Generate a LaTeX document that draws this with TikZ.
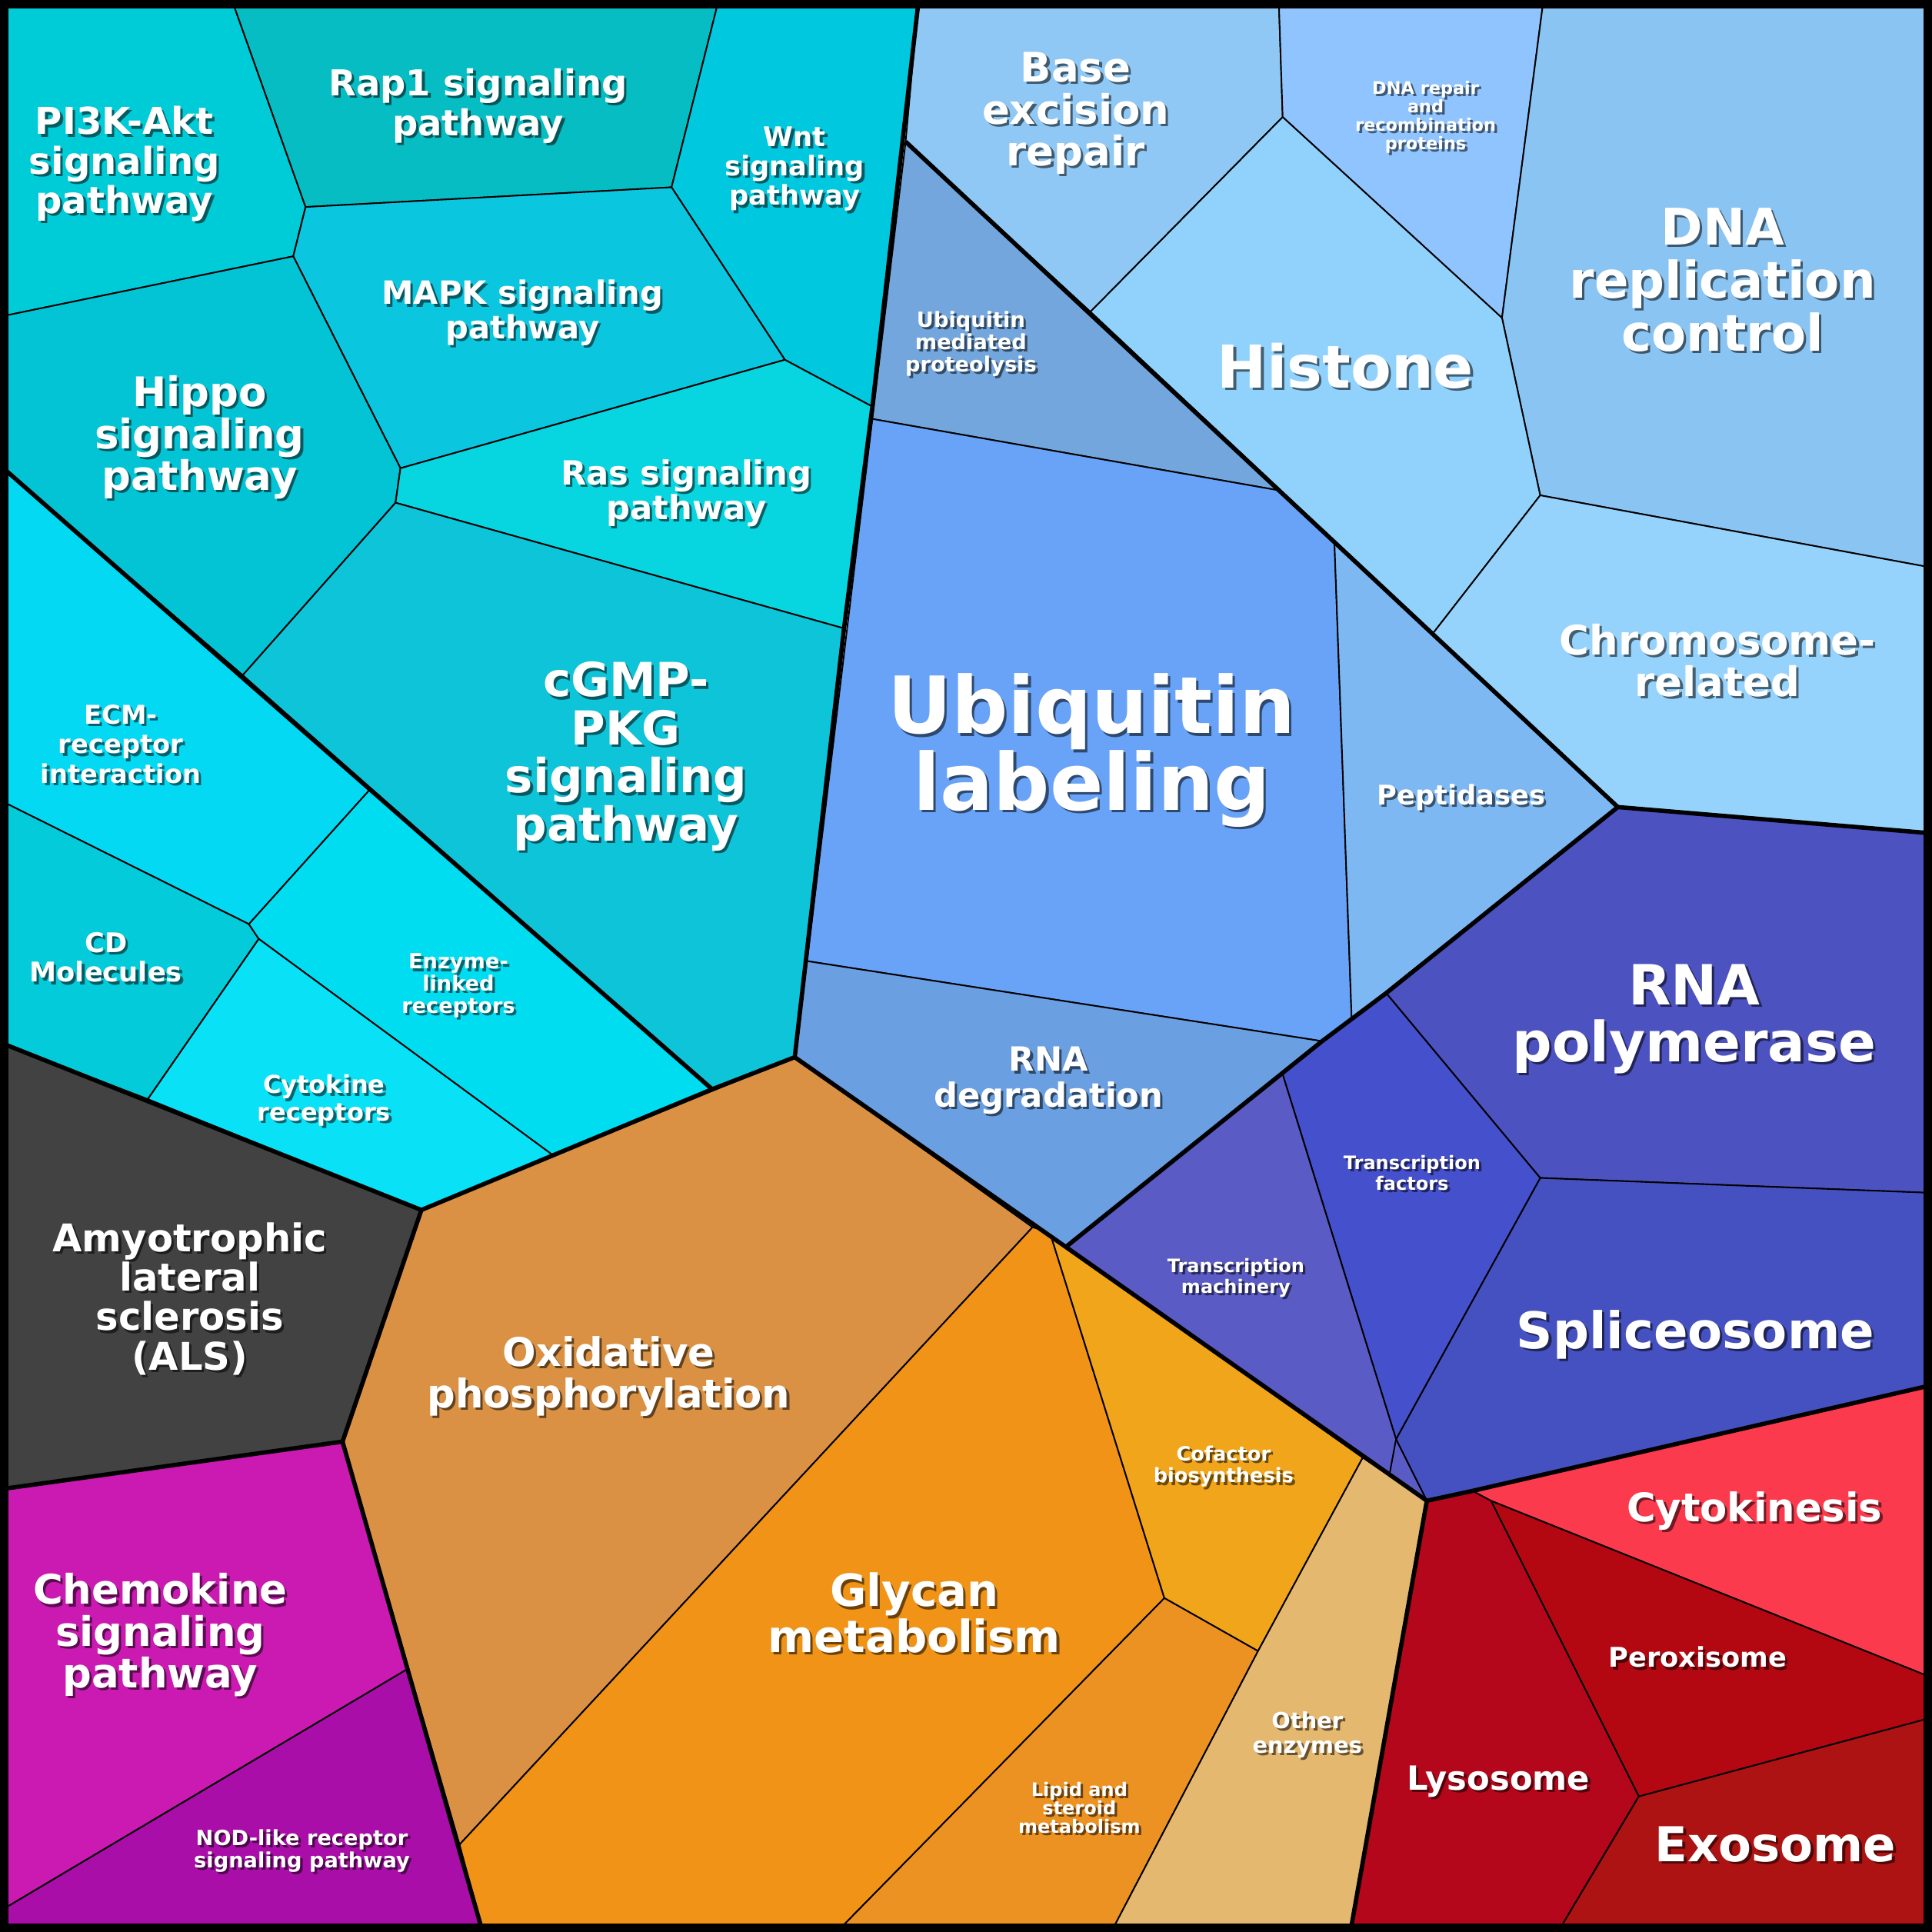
\documentclass[tikz,border=0pt]{standalone}
\usepackage{fontspec}
\setmainfont{DejaVu Sans}
\begin{document}
\newcommand{\lb}[5]{%
 \node[font=\bfseries\fontsize{#3}{#4}\selectfont,align=center,text=black,opacity=.55] (#1s) at ([shift={(2,2)}]#2) {#5};
 \node[font=\bfseries\fontsize{#3}{#4}\selectfont,align=center,text=white] (#1) at (#2) {#5};}
\begin{tikzpicture}[x=1pt,y=-1pt,thin/.style={draw=black,line width=1.2pt},thk/.style={draw=black,line width=3.5pt,line join=round}]
\useasboundingbox (0,0) rectangle (1568,1568);
% cyan upper
\path[thin,fill={rgb,255:red,0;green,204;blue,216}] (5,5)--(190,5)--(248,168)--(238,208)--(5,256)--cycle;
\path[thin,fill={rgb,255:red,5;green,189;blue,194}] (190,5)--(582,5)--(545,152)--(248,168)--cycle;
\path[thin,fill={rgb,255:red,0;green,200;blue,222}] (582,5)--(745,5)--(708,330)--(637,292)--(545,152)--cycle;
\path[thin,fill={rgb,255:red,11;green,198;blue,223}] (248,168)--(545,152)--(637,292)--(325,380)--(238,208)--cycle;
\path[thin,fill={rgb,255:red,3;green,196;blue,212}] (5,256)--(238,208)--(325,380)--(321,408)--(197,548)--(5,382)--cycle;
\path[thin,fill={rgb,255:red,7;green,213;blue,224}] (325,380)--(637,292)--(708,330)--(685,510)--(321,408)--cycle;
\path[thin,fill={rgb,255:red,14;green,196;blue,216}] (321,408)--(685,510)--(645,858)--(578,884)--(197,548)--cycle;
% cyan lower
\path[thin,fill={rgb,255:red,3;green,217;blue,243}] (5,382)--(197,548)--(300,641)--(202,750)--(5,652)--cycle;
\path[thin,fill={rgb,255:red,3;green,203;blue,218}] (5,652)--(202,750)--(210,762)--(120,892)--(5,848)--cycle;
\path[thin,fill={rgb,255:red,0;green,220;blue,240}] (300,641)--(578,884)--(448,937)--(210,762)--(202,750)--cycle;
\path[thin,fill={rgb,255:red,9;green,225;blue,247}] (210,762)--(448,937)--(342,982)--(120,892)--cycle;
% ALS, chemokine
\path[thin,fill={rgb,255:red,66;green,66;blue,66}] (5,848)--(342,982)--(278,1170)--(5,1208)--cycle;
\path[thin,fill={rgb,255:red,202;green,26;blue,178}] (5,1208)--(278,1170)--(330,1355)--(5,1548)--cycle;
\path[thin,fill={rgb,255:red,169;green,14;blue,168}] (5,1548)--(330,1355)--(390,1562)--(5,1562)--cycle;
% orange
\path[thin,fill={rgb,255:red,218;green,145;blue,67}] (342,982)--(645,858)--(838,996)--(373,1497)--(278,1170)--cycle;
\path[thin,fill={rgb,255:red,240;green,147;blue,22}] (373,1497)--(838,996)--(852,1000)--(945,1297)--(685,1562)--(390,1562)--cycle;
\path[thin,fill={rgb,255:red,240;green,165;blue,26}] (852,1000)--(865,1012)--(1106,1183)--(1021,1340)--(945,1297)--cycle;
\path[thin,fill={rgb,255:red,236;green,146;blue,35}] (945,1297)--(1021,1340)--(905,1562)--(685,1562)--cycle;
\path[thin,fill={rgb,255:red,229;green,184;blue,112}] (1106,1183)--(1158,1218)--(1097,1562)--(905,1562)--(1021,1340)--cycle;
% red
\path[thin,fill={rgb,255:red,252;green,58;blue,78}] (1195,1210)--(1564,1125)--(1564,1360)--(1210,1218)--cycle;
\path[thin,fill={rgb,255:red,179;green,8;blue,18}] (1210,1218)--(1564,1360)--(1564,1395)--(1330,1458)--cycle;
\path[thin,fill={rgb,255:red,181;green,7;blue,27}] (1158,1218)--(1195,1210)--(1210,1218)--(1330,1458)--(1268,1562)--(1097,1562)--cycle;
\path[thin,fill={rgb,255:red,174;green,19;blue,19}] (1330,1458)--(1564,1395)--(1564,1562)--(1268,1562)--cycle;
% purple
\path[thin,fill={rgb,255:red,77;green,82;blue,193}] (1125,806)--(1313,655)--(1564,676)--(1564,968)--(1250,956)--cycle;
\path[thin,fill={rgb,255:red,69;green,81;blue,192}] (1250,956)--(1564,968)--(1564,1125)--(1158,1218)--(1133,1168)--cycle;
\path[thin,fill={rgb,255:red,69;green,80;blue,204}] (1041,872)--(1073,845)--(1097,827)--(1125,806)--(1250,956)--(1133,1168)--cycle;
\path[thin,fill={rgb,255:red,90;green,91;blue,196}] (865,1012)--(1041,872)--(1133,1168)--(1158,1218)--cycle;
\draw[thin] (1133,1168)--(1128,1195);
% ubiquitin group
\path[thin,fill={rgb,255:red,115;green,166;blue,220}] (735,115)--(1038,398)--(708,340)--cycle;
\path[thin,fill={rgb,255:red,104;green,163;blue,248}] (708,340)--(1038,398)--(1083,440)--(1097,827)--(1073,845)--(655,780)--cycle;
\path[thin,fill={rgb,255:red,125;green,184;blue,243}] (1083,440)--(1313,655)--(1097,827)--cycle;
\path[thin,fill={rgb,255:red,106;green,159;blue,226}] (655,780)--(1073,845)--(865,1012)--(645,858)--cycle;
% DNA group
\path[thin,fill={rgb,255:red,143;green,200;blue,244}] (745,5)--(1038,5)--(1041,95)--(885,253)--(735,115)--cycle;
\path[thin,fill={rgb,255:red,143;green,196;blue,255}] (1038,5)--(1252,5)--(1219,258)--(1041,95)--cycle;
\path[thin,fill={rgb,255:red,137;green,196;blue,242}] (1252,5)--(1564,5)--(1564,460)--(1250,402)--(1219,258)--cycle;
\path[thin,fill={rgb,255:red,145;green,210;blue,253}] (885,253)--(1041,95)--(1219,258)--(1250,402)--(1163,514)--cycle;
\path[thin,fill={rgb,255:red,150;green,211;blue,252}] (1163,514)--(1250,402)--(1564,460)--(1564,676)--(1313,655)--cycle;
% thick group borders
\draw[thk] (745,5)--(708,330)--(685,510)--(645,858)--(578,884)--(342,982)--(5,848);
\draw[thk] (5,382)--(578,884);
\draw[thk] (342,982)--(278,1170)--(5,1208);
\draw[thk] (278,1170)--(390,1562);
\draw[thk] (645,858)--(865,1012)--(1158,1218)--(1097,1562);
\draw[thk] (1158,1218)--(1195,1210)--(1564,1125);
\draw[thk] (865,1012)--(1073,845)--(1097,827)--(1125,806)--(1313,655)--(1564,676);
\draw[thk] (735,115)--(1038,398)--(1083,440)--(1313,655);
\draw[black,line width=7pt] (3.5,3.5) rectangle (1564.5,1564.5);
% labels
\lb{pi3k}{101,133}{30}{32}{PI3K-Akt\\signaling\\pathway}
\lb{rap1}{388,86}{29}{32}{Rap1 signaling\\pathway}
\lb{wnt}{645,137}{22}{24}{Wnt\\signaling\\pathway}
\lb{mapk}{424,254}{26}{28}{MAPK signaling\\pathway}
\lb{hippo}{162,355}{33}{34}{Hippo\\signaling\\pathway}
\lb{ras}{557,400}{27}{28}{Ras signaling\\pathway}
\lb{cgmp}{508,614}{38}{39}{cGMP-\\PKG\\signaling\\pathway}
\lb{ecm}{98,604}{21}{24}{ECM-\\receptor\\interaction}
\lb{cd}{86,777}{22}{24}{CD\\Molecules}
\lb{enz}{372,800}{17}{18}{Enzyme-\\linked\\receptors}
\lb{cyr}{263,893}{20}{22}{Cytokine\\receptors}
\lb{als}{154,1054}{31}{32}{Amyotrophic\\lateral\\sclerosis\\(ALS)}
\lb{chem}{130,1327}{33}{34}{Chemokine\\signaling\\pathway}
\lb{nod}{245,1502}{17}{18}{NOD-like receptor\\signaling pathway}
\lb{oxi}{494,1117}{32}{34}{Oxidative\\phosphorylation}
\lb{gly}{742,1309}{36}{37}{Glycan\\metabolism}
\lb{cof}{993,1190}{16}{18}{Cofactor\\biosynthesis}
\lb{lip}{876,1467}{15}{15}{Lipid and\\steroid\\metabolism}
\lb{oth}{1061,1408}{18}{20}{Other\\enzymes}
\lb{cytk}{1424,1226}{32}{34}{Cytokinesis}
\lb{perox}{1378,1345}{22}{24}{Peroxisome}
\lb{lyso}{1216,1446}{27}{28}{Lysosome}
\lb{exo}{1441,1497}{39}{40}{Exosome}
\lb{rnap}{1375,827}{45}{46}{RNA\\polymerase}
\lb{splice}{1376,1083}{41}{42}{Spliceosome}
\lb{tf}{1146,952}{15}{17}{Transcription\\factors}
\lb{tm}{1003,1037}{15}{17}{Transcription\\machinery}
\lb{ump}{788,279}{17}{18}{Ubiquitin\\mediated\\proteolysis}
\lb{ubl}{886,609}{64}{62}{Ubiquitin\\labeling}
\lb{pep}{1186,647}{22}{24}{Peptidases}
\lb{rnad}{851,877}{27}{29}{RNA\\degradation}
\lb{ber}{873,92}{33}{34}{Base\\excision\\repair}
\lb{dnar}{1157,95}{14}{15}{DNA repair\\and\\recombination\\proteins}
\lb{dnarc}{1398,227}{41}{43}{DNA\\replication\\control}
\lb{hist}{1092,297}{48}{52}{Histone}
\lb{chrom}{1394,536}{33}{34}{Chromosome-\\related}
\end{tikzpicture}
\end{document}
